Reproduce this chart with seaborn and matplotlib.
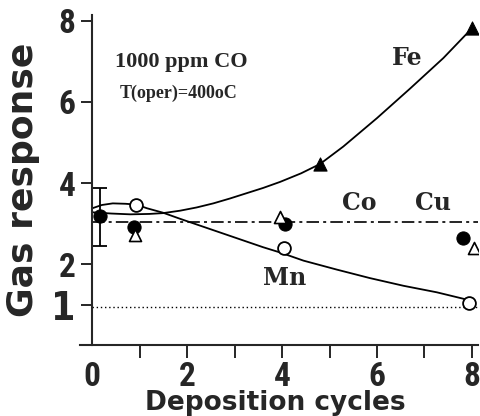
import matplotlib
matplotlib.use('Agg')
import matplotlib.pyplot as plt
import seaborn as sns

# measured points
fe_x = [4.8, 8.0]            # Fe, filled triangles
fe_y = [4.47, 7.81]
mn_x = [0.93, 4.04, 7.95]    # Mn, open circles
mn_y = [3.47, 2.39, 1.05]
co_x = [0.17, 0.87, 4.06, 7.82]   # filled circles
co_y = [3.18, 2.93, 2.99, 2.64]
cu_x = [0.9, 3.96, 8.05]     # open triangles
cu_y = [2.72, 3.17, 2.39]

# error bar on the first point
err_lo = 2.45
err_hi = 3.88

# smooth fit curves
fe_fit_x = [0.0, 0.4, 0.8, 1.2, 1.49, 1.85, 2.2, 2.55, 2.9, 3.25, 3.6, 3.96, 4.4, 4.8, 5.29, 6.0, 6.7, 7.4, 8.0]
fe_fit_y = [3.28, 3.25, 3.23, 3.24, 3.26, 3.32, 3.40, 3.50, 3.62, 3.75, 3.88, 4.03, 4.24, 4.47, 4.90, 5.60, 6.33, 7.08, 7.81]
mn_fit_x = [0.0, 0.2, 0.43, 0.7, 0.93, 1.15, 1.49, 1.85, 2.2, 2.55, 2.9, 3.25, 3.6, 3.96, 4.45, 5.15, 5.85, 6.56, 7.26, 7.93]
mn_fit_y = [3.38, 3.46, 3.50, 3.49, 3.47, 3.38, 3.27, 3.12, 2.98, 2.84, 2.70, 2.56, 2.42, 2.29, 2.09, 1.87, 1.66, 1.47, 1.31, 1.12]

co_level = 3.03    # dash-dot reference
base_level = 0.94  # dotted baseline

x_ticks = [0, 2, 4, 6, 8]
x_minor = [1, 3, 5, 7]
y_ticks = [1, 2, 4, 6, 8]

sns.set_style('ticks')
plt.rcParams['font.family'] = ['DejaVu Sans']

fig = plt.figure(figsize=(4.8, 4.16), dpi=100)
ax = fig.add_axes([0.1667, 0.1695, 0.8292, 0.7945])

xlo, xhi = -0.26, 8.13
ax.set_xlim(xlo, xhi)
ax.set_ylim(0, 8.14)
x0 = (0 - xlo) / (xhi - xlo)

# fit curves
sns.lineplot(x=fe_fit_x, y=fe_fit_y, sort=False, estimator=None, color='black', lw=1.3, ax=ax)
sns.lineplot(x=mn_fit_x, y=mn_fit_y, sort=False, estimator=None, color='black', lw=1.3, ax=ax)

# reference lines
ax.axhline(co_level, xmin=x0, color='black', lw=1.2, linestyle=(0, (7.5, 2.5, 1.8, 2.5)))
ax.axhline(base_level, xmin=x0, color='black', lw=1.0, linestyle=(0, (1, 2)))

ax.errorbar(co_x[0], co_y[0], yerr=[[co_y[0] - err_lo], [err_hi - co_y[0]]], fmt='none',
            ecolor='black', elinewidth=1.3, capsize=4.7, capthick=1.3, zorder=3)

sns.scatterplot(x=co_x, y=co_y, marker='o', s=90, color='black', edgecolor='black', ax=ax, zorder=4)
sns.scatterplot(x=cu_x, y=cu_y, marker='^', s=75, color='white', edgecolor='black', linewidth=1.2, ax=ax, zorder=4)
sns.scatterplot(x=mn_x, y=mn_y, marker='o', s=85, color='white', edgecolor='black', linewidth=1.3, ax=ax, zorder=5)
sns.scatterplot(x=fe_x, y=fe_y, marker='^', s=90, color='black', edgecolor='black', ax=ax, zorder=5)

# axes styling
ax.spines[['top', 'right']].set_visible(False)
ax.spines['left'].set_position(('data', 0))
for s in ['left', 'bottom']:
    ax.spines[s].set_linewidth(1.5)

tick_font = ['Roboto Condensed', 'DejaVu Sans Condensed', 'Liberation Sans']
ax.set_xticks(x_ticks)
ax.set_xticklabels([str(t) for t in x_ticks], fontfamily=tick_font, fontweight='bold',
                   fontstretch='condensed', fontsize=24)
ax.set_xticks(x_minor, minor=True)
ax.set_yticks(y_ticks)
ax.set_yticklabels([str(t) for t in y_ticks], fontfamily=tick_font, fontweight='bold',
                   fontstretch='condensed', fontsize=24)
ax.tick_params(axis='x', which='both', direction='out', length=9.4, width=1.4, pad=1.5)
ax.tick_params(axis='y', direction='out', length=8, width=1.4, pad=4)
ax.xaxis.get_major_ticks()[0].tick1line.set_visible(False)

one = ax.get_yticklabels()[0]
one.set_fontfamily('DejaVu Sans')
one.set_fontsize(28)

ax.set_xlabel('Deposition cycles', fontsize=19, fontweight='bold')
ax.xaxis.set_label_coords(0.49, -0.135)
ax.set_ylabel('Gas response', fontsize=26, fontweight='bold')
ax.yaxis.set_label_coords(-0.10, 0.5)

# annotations
ax.text(1.87, 6.98, '1000 ppm CO', family='Liberation Serif', fontweight='bold', fontsize=16, ha='center', va='center')
ax.text(1.82, 6.22, 'T(oper)=400oC', family='Liberation Serif', fontweight='bold', fontsize=13, ha='center', va='center')
lab = dict(family='DejaVu Serif', fontweight='bold', fontsize=17, ha='center', va='center')
ax.text(6.63, 7.08, 'Fe', **lab)
ax.text(5.62, 3.50, 'Co', **lab)
ax.text(7.18, 3.50, 'Cu', **lab)
ax.text(4.06, 1.65, 'Mn', **lab)

fig.savefig('out.png', dpi=100)
